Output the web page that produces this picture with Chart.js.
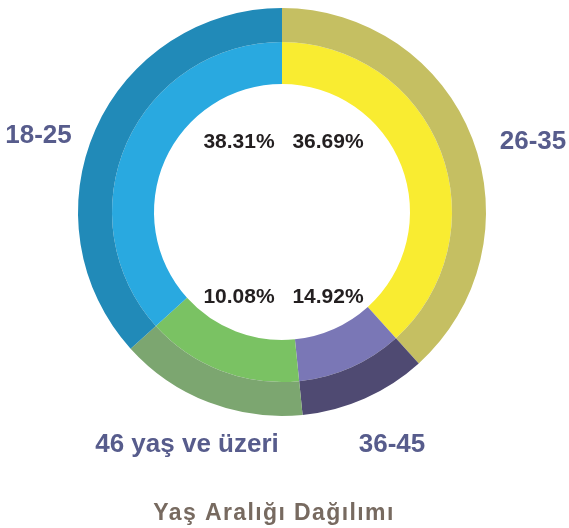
<!DOCTYPE html>
<html>
<head>
<meta charset="utf-8">
<script src="https://cdn.jsdelivr.net/npm/chart.js@4/dist/chart.umd.min.js"></script>
<style>
  html, body { margin: 0; padding: 0; background: #ffffff; }
  #wrap { width: 569px; height: 528px; position: relative; }
</style>
</head>
<body>
<div id="wrap"><canvas id="c" width="569" height="528"></canvas></div>
<script>
// Categories in drawing order (clockwise from top)
const categories = ['26-35', '36-45', '46 yaş ve üzeri', '18-25'];
// Slice sizes as drawn in the picture (percent of the ring)
const arcValues = [38.31, 10.08, 14.92, 36.69];
// Percentage texts printed inside the hole for each category
const percentLabels = ['36.69%', '14.92%', '10.08%', '38.31%'];
const chartTitle = 'Yaş Aralığı Dağılımı';

const outerColors = ['#c5bf62', '#4f4a72', '#7ca670', '#218ab8'];
const innerColors = ['#f9ec31', '#7a77b6', '#7ac263', '#29a9e0'];

const FONT = '"Liberation Sans", Arial, Helvetica, sans-serif';

const labelPlugin = {
  id: 'labelPlugin',
  afterDraw(chart) {
    const meta = chart.getDatasetMeta(0);
    const arc = meta.data[0];
    const cx = arc.x, cy = arc.y;
    const ctx = chart.ctx;
    ctx.save();
    ctx.textAlign = 'center';
    ctx.textBaseline = 'alphabetic';

    // percentage texts in the hole
    ctx.fillStyle = '#231f20';
    ctx.font = 'bold 21px ' + FONT;
    const pctPos = [
      [46, -64.5],   // 26-35 (top right)
      [46, 90.5],    // 36-45 (bottom right)
      [-43, 90.5],   // 46+ (bottom left)
      [-43, -64.5]   // 18-25 (top left)
    ];
    percentLabels.forEach((t, i) => {
      ctx.fillText(t, cx + pctPos[i][0], cy + pctPos[i][1]);
    });

    // category texts outside the ring
    ctx.fillStyle = '#575c8c';
    ctx.font = 'bold 26px ' + FONT;
    const catPos = [
      [251, -63],
      [110, 240],
      [-95, 240],
      [-243.5, -69]
    ];
    categories.forEach((t, i) => {
      ctx.fillText(t, cx + catPos[i][0], cy + catPos[i][1]);
    });

    // title
    ctx.fillStyle = '#776a60';
    ctx.font = 'bold 23px ' + FONT;
    try { ctx.letterSpacing = '1.4px'; } catch (e) {}
    ctx.fillText(chartTitle, cx - 8, cy + 307.5);
    ctx.restore();
  }
};

new Chart(document.getElementById('c'), {
  type: 'doughnut',
  data: {
    labels: categories,
    datasets: [
      { data: arcValues, backgroundColor: outerColors, borderWidth: 0, weight: 34 },
      { data: arcValues, backgroundColor: innerColors, borderWidth: 0, weight: 42 }
    ]
  },
  options: {
    responsive: false,
    animation: false,
    cutout: 128,
    layout: { padding: { left: 78, right: 83, top: 8, bottom: 112 } },
    plugins: {
      legend: { display: false },
      tooltip: { enabled: false },
      title: { display: false }
    }
  },
  plugins: [labelPlugin]
});
</script>
</body>
</html>
